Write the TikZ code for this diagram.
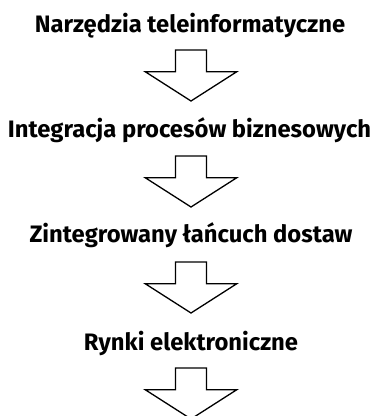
\documentclass[tikz,border=0pt]{standalone}
\usepackage{fontspec}
\newfontfamily\stagefont{Fira Sans}
\newcommand\stagetype{\stagefont\fontsize{23.8}{27}\selectfont\bfseries}
\begin{document}
\begin{tikzpicture}[x=1pt,y=-1pt,
  stage/.style={anchor=base,inner sep=0pt,text=black,font=\stagetype},
  downarrow/.style={draw=black,line width=1.3pt,line join=miter,fill=white}]
  \useasboundingbox (0,0) rectangle (375,416);
  % hollow block arrow whose top edge is centred at the given point
  \newcommand\blockarrow[2]{%
    \draw[downarrow] (#1-15.5,#2) -- (#1+15.5,#2) -- (#1+15.5,#2+21.7)
      -- (#1+45.8,#2+21.7) -- (#1,#2+51) -- (#1-45.8,#2+21.7)
      -- (#1-15.5,#2+21.7) -- cycle;}
  \node[stage] (s1) at (190,32) {Narzędzia teleinformatyczne};
  \node[stage] (s2) at (189.5,137.5) {Integracja procesów biznesowych};
  \node[stage] (s3) at (191,242.5) {Zintegrowany łańcuch dostaw};
  \node[stage] (s4) at (191,350.5) {Rynki elektroniczne};
  \blockarrow{191}{50}
  \blockarrow{191}{156}
  \blockarrow{191}{262}
  \blockarrow{191}{368}
\end{tikzpicture}
\end{document}
